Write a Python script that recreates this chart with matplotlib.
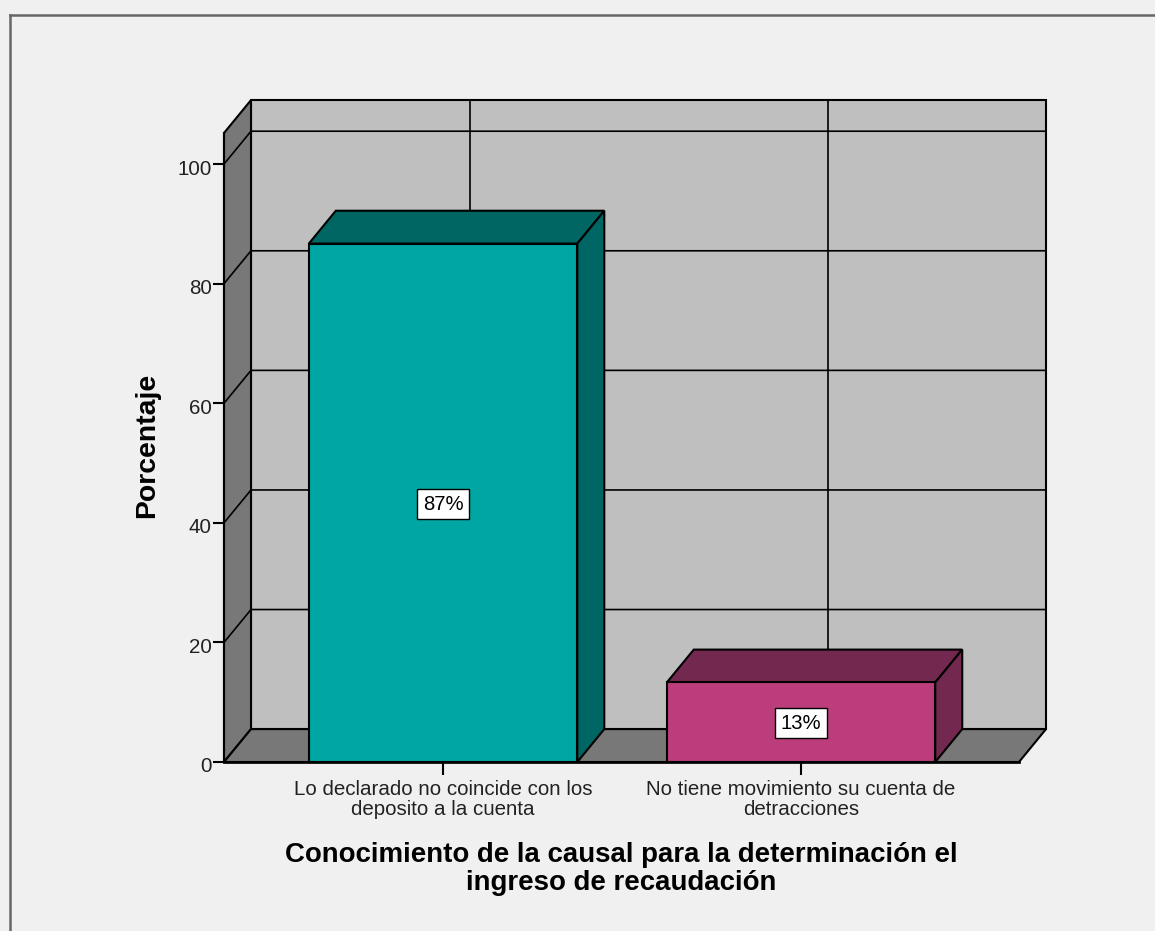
# bar chart with the fake 3D box look

import matplotlib.pyplot as plt
from matplotlib.lines import Line2D
from matplotlib.transforms import ScaledTranslation

plt.rcParams['font.family'] = ['Liberation Sans', 'DejaVu Sans']

categories = ['Lo declarado no coincide con los\ndeposito a la cuenta',
              'No tiene movimiento su cuenta de\ndetracciones']
values = [86.7, 13.3]
labels = ['87%', '13%']
yticks = [0, 20, 40, 60, 80, 100]
xpos = [0, 1]

front_colors = ['#00A6A3', '#BB3D7C']
dark_colors = ['#006663', '#73284F']
wall_color = '#BFBFBF'
floor_color = '#787878'
bg_color = '#F0F0F0'
lw = 1.5

# depth of the box, in data units
dx = 27 / 358
dy = 5.5
bar_w = 0.75

fig = plt.figure(figsize=(11.55, 9.31), dpi=100, facecolor=bg_color)
ax = fig.add_axes([224 / 1155, (931 - 762) / 931, 795 / 1155, 629 / 931])
ax.set_facecolor('none')
xl, xr = -0.612, 1.609
yt = 105.2
ax.set_xlim(xl, xr)
ax.set_ylim(0, yt)

# back wall, side wall, floor
ax.fill([xl + dx, xr + dx, xr + dx, xl + dx], [dy, dy, yt + dy, yt + dy],
        fc=wall_color, ec='k', lw=lw, clip_on=False, zorder=1)
ax.fill([xl, xl + dx, xl + dx, xl], [0, dy, yt + dy, yt],
        fc=floor_color, ec='k', lw=lw, clip_on=False, zorder=1)
ax.fill([xl, xr, xr + dx, xl + dx], [0, 0, dy, dy],
        fc=floor_color, ec='k', lw=lw, clip_on=False, zorder=1)

# grid on the walls
for v in yticks[1:]:
    ax.plot([xl, xl + dx, xr + dx], [v, v + dy, v + dy], color='k', lw=lw * 0.8,
            clip_on=False, zorder=2)
for x in xpos:
    ax.plot([x + dx, x + dx], [dy, yt + dy], color='k', lw=lw * 0.8,
            clip_on=False, zorder=2)

# bars
ax.bar(xpos, values, width=bar_w, color=front_colors, edgecolor='k', lw=lw, zorder=4)
for x, v, c in zip(xpos, values, dark_colors):
    a = x - bar_w / 2
    b = x + bar_w / 2
    ax.fill([a, b, b + dx, a + dx], [v, v, v + dy, v + dy], fc=c, ec='k', lw=lw, zorder=3)
    ax.fill([b, b + dx, b + dx, b], [0, dy, v + dy, v], fc=c, ec='k', lw=lw, zorder=3)

for x, v, s in zip(xpos, values, labels):
    ax.text(x, v / 2 - 0.2, s, ha='center', va='center', fontsize=14.6, color='k', zorder=5,
            bbox=dict(boxstyle='square,pad=0.27', fc='white', ec='k', lw=1))

for side in ['top', 'right', 'bottom']:
    ax.spines[side].set_visible(False)
ax.spines['left'].set_linewidth(lw)
ax.spines['left'].set_zorder(3)

ax.set_yticks(yticks)
ax.set_xticks(xpos)
ax.set_xticklabels(categories, linespacing=1.08)
ax.tick_params(axis='y', length=8, width=lw, labelsize=14.8, pad=1, labelcolor='#222222')
ax.tick_params(axis='x', length=9, width=lw, labelsize=14.8, pad=4, labelcolor='#222222')
# the y numbers sit a little under their ticks
down = ScaledTranslation(0, -3 / 100, fig.dpi_scale_trans)
for t in ax.get_yticklabels():
    t.set_transform(t.get_transform() + down)
ax.plot([xl, xr], [0, 0], color='k', lw=lw * 1.3, clip_on=False, zorder=6)

ax.set_xlabel('Conocimiento de la causal para la determinación el\ningreso de recaudación',
              fontsize=19.9, fontweight='bold', linespacing=1.13)
ax.xaxis.set_label_coords(0.5, -0.127)
ax.set_ylabel('Porcentaje', fontsize=20.4, fontweight='bold')
ax.yaxis.set_label_coords(-0.080, 0.503)

# outer frame, only left and top show
frame = '#666666'
fig.add_artist(Line2D([10 / 1155, 10 / 1155], [0, 1 - 15 / 931], color=frame, lw=1.8))
fig.add_artist(Line2D([10 / 1155, 1], [1 - 15 / 931, 1 - 15 / 931], color=frame, lw=1.8))

fig.savefig('out.png', dpi=100, facecolor=bg_color)
